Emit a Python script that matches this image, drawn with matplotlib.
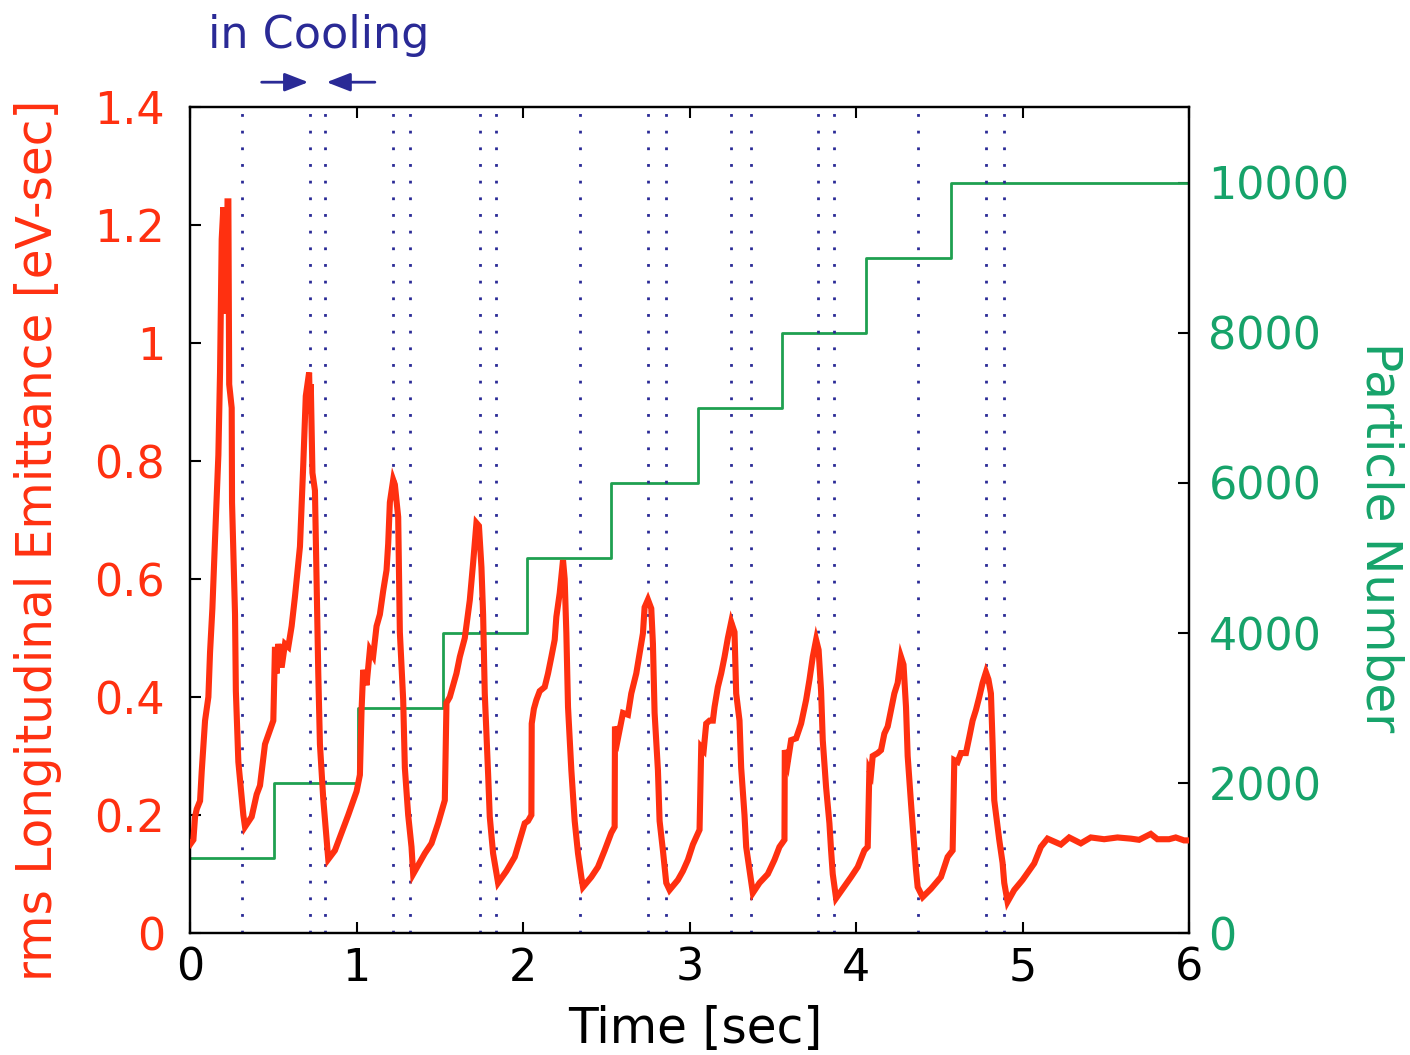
import matplotlib
matplotlib.use("Agg")
import matplotlib.pyplot as plt

plt.rcParams['font.family'] = ['DejaVu Sans']

# rms longitudinal emittance [eV-sec] vs time [sec]
time = [
    0.0, 0.02, 0.03, 0.04, 0.06, 0.07, 0.09, 0.11, 0.12, 0.134, 0.15, 0.17, 0.18, 0.19,
    0.20, 0.21, 0.215, 0.22, 0.225, 0.23, 0.235, 0.25, 0.252, 0.27, 0.275, 0.29, 0.32,
    0.33, 0.37, 0.40, 0.42, 0.45, 0.50, 0.51, 0.52, 0.53, 0.55, 0.57, 0.59, 0.61, 0.63,
    0.66, 0.68, 0.695, 0.705, 0.715, 0.72, 0.725, 0.735, 0.75, 0.77, 0.78, 0.80, 0.83,
    0.87, 0.91, 0.95, 1.00, 1.02, 1.03, 1.04, 1.06, 1.08, 1.10, 1.12, 1.14, 1.16, 1.18,
    1.19, 1.20, 1.22, 1.23, 1.25, 1.26, 1.28, 1.29, 1.31, 1.33, 1.34, 1.37, 1.41, 1.45,
    1.49, 1.53, 1.54, 1.56, 1.58, 1.60, 1.62, 1.65, 1.68, 1.70, 1.72, 1.735, 1.75, 1.76,
    1.77, 1.79, 1.80, 1.82, 1.85, 1.90, 1.95, 2.01, 2.03, 2.05, 2.052, 2.065, 2.08, 2.10,
    2.13, 2.15, 2.17, 2.19, 2.20, 2.22, 2.24, 2.25, 2.26, 2.27, 2.29, 2.31, 2.33, 2.35,
    2.36, 2.41, 2.45, 2.49, 2.53, 2.55, 2.552, 2.57, 2.60, 2.63, 2.65, 2.68, 2.70, 2.72,
    2.73, 2.75, 2.77, 2.78, 2.79, 2.81, 2.82, 2.84, 2.86, 2.88, 2.93, 2.96, 2.99, 3.02,
    3.06, 3.07, 3.085, 3.10, 3.12, 3.14, 3.15, 3.17, 3.19, 3.21, 3.23, 3.25, 3.27, 3.28,
    3.30, 3.31, 3.33, 3.34, 3.36, 3.38, 3.42, 3.47, 3.51, 3.54, 3.57, 3.572, 3.59, 3.61,
    3.64, 3.67, 3.70, 3.72, 3.74, 3.76, 3.775, 3.79, 3.80, 3.82, 3.84, 3.85, 3.86, 3.88,
    3.92, 3.97, 4.01, 4.05, 4.07, 4.08, 4.09, 4.10, 4.13, 4.15, 4.17, 4.19, 4.21, 4.23,
    4.25, 4.27, 4.285, 4.30, 4.31, 4.33, 4.35, 4.36, 4.37, 4.40, 4.45, 4.51, 4.55, 4.58,
    4.59, 4.61, 4.63, 4.66, 4.68, 4.70, 4.72, 4.74, 4.76, 4.78, 4.795, 4.81, 4.82, 4.83,
    4.86, 4.88, 4.89, 4.91, 4.95, 5.00, 5.07, 5.11, 5.15, 5.19, 5.23, 5.28, 5.35, 5.41,
    5.49, 5.57, 5.65, 5.70, 5.77, 5.81, 5.88, 5.92, 5.97, 6.0,
]
emittance = [
    0.15, 0.158, 0.197, 0.21, 0.224, 0.274, 0.36, 0.40, 0.476, 0.55, 0.668, 0.81, 0.95, 1.176,
    1.23, 1.10, 1.22, 1.05, 1.24, 1.24, 0.93, 0.89, 0.73, 0.54, 0.41, 0.29, 0.20,
    0.18, 0.197, 0.235, 0.25, 0.32, 0.36, 0.485, 0.44, 0.49, 0.45, 0.49, 0.485, 0.52, 0.57,
    0.655, 0.795, 0.91, 0.93, 0.95, 0.88, 0.93, 0.78, 0.75, 0.44, 0.32, 0.227, 0.125,
    0.14, 0.17, 0.20, 0.24, 0.268, 0.378, 0.446, 0.42, 0.48, 0.47, 0.52, 0.54, 0.58, 0.615,
    0.66, 0.73, 0.768, 0.76, 0.705, 0.51, 0.395, 0.28, 0.20, 0.146, 0.10, 0.115, 0.135, 0.152,
    0.186, 0.225, 0.39, 0.40, 0.42, 0.44, 0.468, 0.50, 0.564, 0.627, 0.695, 0.69, 0.62, 0.54,
    0.406, 0.27, 0.197, 0.135, 0.085, 0.105, 0.129, 0.186, 0.19, 0.20, 0.355, 0.38, 0.395, 0.41,
    0.417, 0.44, 0.468, 0.497, 0.536, 0.576, 0.632, 0.60, 0.508, 0.383, 0.276, 0.19, 0.135, 0.095,
    0.078, 0.095, 0.112, 0.14, 0.17, 0.18, 0.35, 0.33, 0.373, 0.37, 0.406, 0.44, 0.474, 0.508,
    0.552, 0.565, 0.55, 0.49, 0.373, 0.276, 0.19, 0.14, 0.085, 0.073, 0.09, 0.105, 0.124, 0.15,
    0.175, 0.315, 0.31, 0.355, 0.36, 0.36, 0.383, 0.417, 0.44, 0.468, 0.50, 0.527, 0.51, 0.406,
    0.36, 0.28, 0.20, 0.146, 0.107, 0.068, 0.085, 0.10, 0.124, 0.146, 0.158, 0.31, 0.29, 0.327,
    0.33, 0.355, 0.395, 0.429, 0.468, 0.497, 0.48, 0.41, 0.327, 0.247, 0.186, 0.14, 0.10, 0.059,
    0.075, 0.095, 0.112, 0.14, 0.146, 0.276, 0.27, 0.30, 0.305, 0.31, 0.338, 0.35, 0.378, 0.406,
    0.424, 0.468, 0.455, 0.383, 0.30, 0.22, 0.146, 0.107, 0.078, 0.061, 0.075, 0.095, 0.129, 0.14,
    0.293, 0.29, 0.305, 0.305, 0.332, 0.36, 0.378, 0.40, 0.424, 0.442, 0.43, 0.406, 0.322, 0.225,
    0.158, 0.119, 0.085, 0.053, 0.073, 0.09, 0.118, 0.146, 0.16, 0.155, 0.15, 0.162, 0.152, 0.162,
    0.159, 0.162, 0.16, 0.158, 0.168, 0.159, 0.159, 0.162, 0.157, 0.157,
]

# injected particle number (step changes at each injection)
inject_time = [0.0, 0.505, 1.01, 1.52, 2.025, 2.53, 3.05, 3.555, 4.06, 4.57, 6.0]
particles = [1000, 2000, 3000, 4000, 5000, 6000, 7000, 8000, 9000, 10000, 10000]

# start/end times of the cooling windows
cooling_marks = [0.31, 0.72, 0.81, 1.22, 1.32, 1.74, 1.84, 2.34, 2.75, 2.86,
                 3.25, 3.37, 3.77, 3.87, 4.37, 4.78, 4.89]

red = '#ff3010'
green = '#16a36a'
line_green = '#1fa050'
navy = '#2a2a96'

fig = plt.figure(figsize=(14.1, 10.55), dpi=100)
ax = fig.add_axes([0.1348, 0.1156, 0.7085, 0.783])
ax2 = ax.twinx()

for t in cooling_marks:
    ax.axvline(t, color=navy, linestyle=(0, (1, 5)), linewidth=2.0, zorder=1)

ax2.step(inject_time, particles, where='post', color=line_green, linewidth=2.0, zorder=2)
ax.plot(time, emittance, color=red, linewidth=4.4, zorder=3, solid_joinstyle='miter')

ax.set_zorder(ax2.get_zorder() + 1)
ax.patch.set_visible(False)

ax.set_xlim(0, 6)
ax.set_ylim(0, 1.4)
ax2.set_ylim(0, 11013)

ax.set_xticks(range(0, 7))
ax.set_yticks([0, 0.2, 0.4, 0.6, 0.8, 1.0, 1.2, 1.4])
ax.set_yticklabels(['0', '0.2', '0.4', '0.6', '0.8', '1', '1.2', '1.4'])
ax2.set_yticks([0, 2000, 4000, 6000, 8000, 10000])

ax.tick_params(axis='x', direction='in', length=8, width=1.5, labelsize=32,
               pad=10, top=True, colors='black')
ax.tick_params(axis='y', direction='in', length=8, width=1.5, labelsize=32,
               pad=18, labelcolor=red)
ax2.tick_params(axis='y', direction='in', length=8, width=1.5, labelsize=32,
                pad=14, labelcolor=green)

for a in (ax, ax2):
    for s in a.spines.values():
        s.set_linewidth(1.6)

fig.text(0.493, 0.025, 'Time [sec]', fontsize=35, ha='center', va='center')
fig.text(0.027, 0.488, 'rms Longitudinal Emittance [eV-sec]', fontsize=35,
         color=red, rotation=90, ha='center', va='center')
fig.text(0.979, 0.491, 'Particle Number', fontsize=35, color=green,
         rotation=-90, ha='center', va='center')

# "in Cooling" label with arrows pointing at one cooling window
ax.text(0.77, 1.5, 'in Cooling', fontsize=32, color=navy, ha='center',
        va='baseline', clip_on=False)
arrow = dict(arrowstyle='-|>,head_length=0.9,head_width=0.35', color=navy,
             lw=2, mutation_scale=16, shrinkA=0, shrinkB=0)
ax.annotate('', xy=(0.71, 1.442), xytext=(0.43, 1.442), arrowprops=arrow,
            annotation_clip=False)
ax.annotate('', xy=(0.82, 1.442), xytext=(1.11, 1.442), arrowprops=arrow,
            annotation_clip=False)

fig.savefig('out.png', dpi=100)
